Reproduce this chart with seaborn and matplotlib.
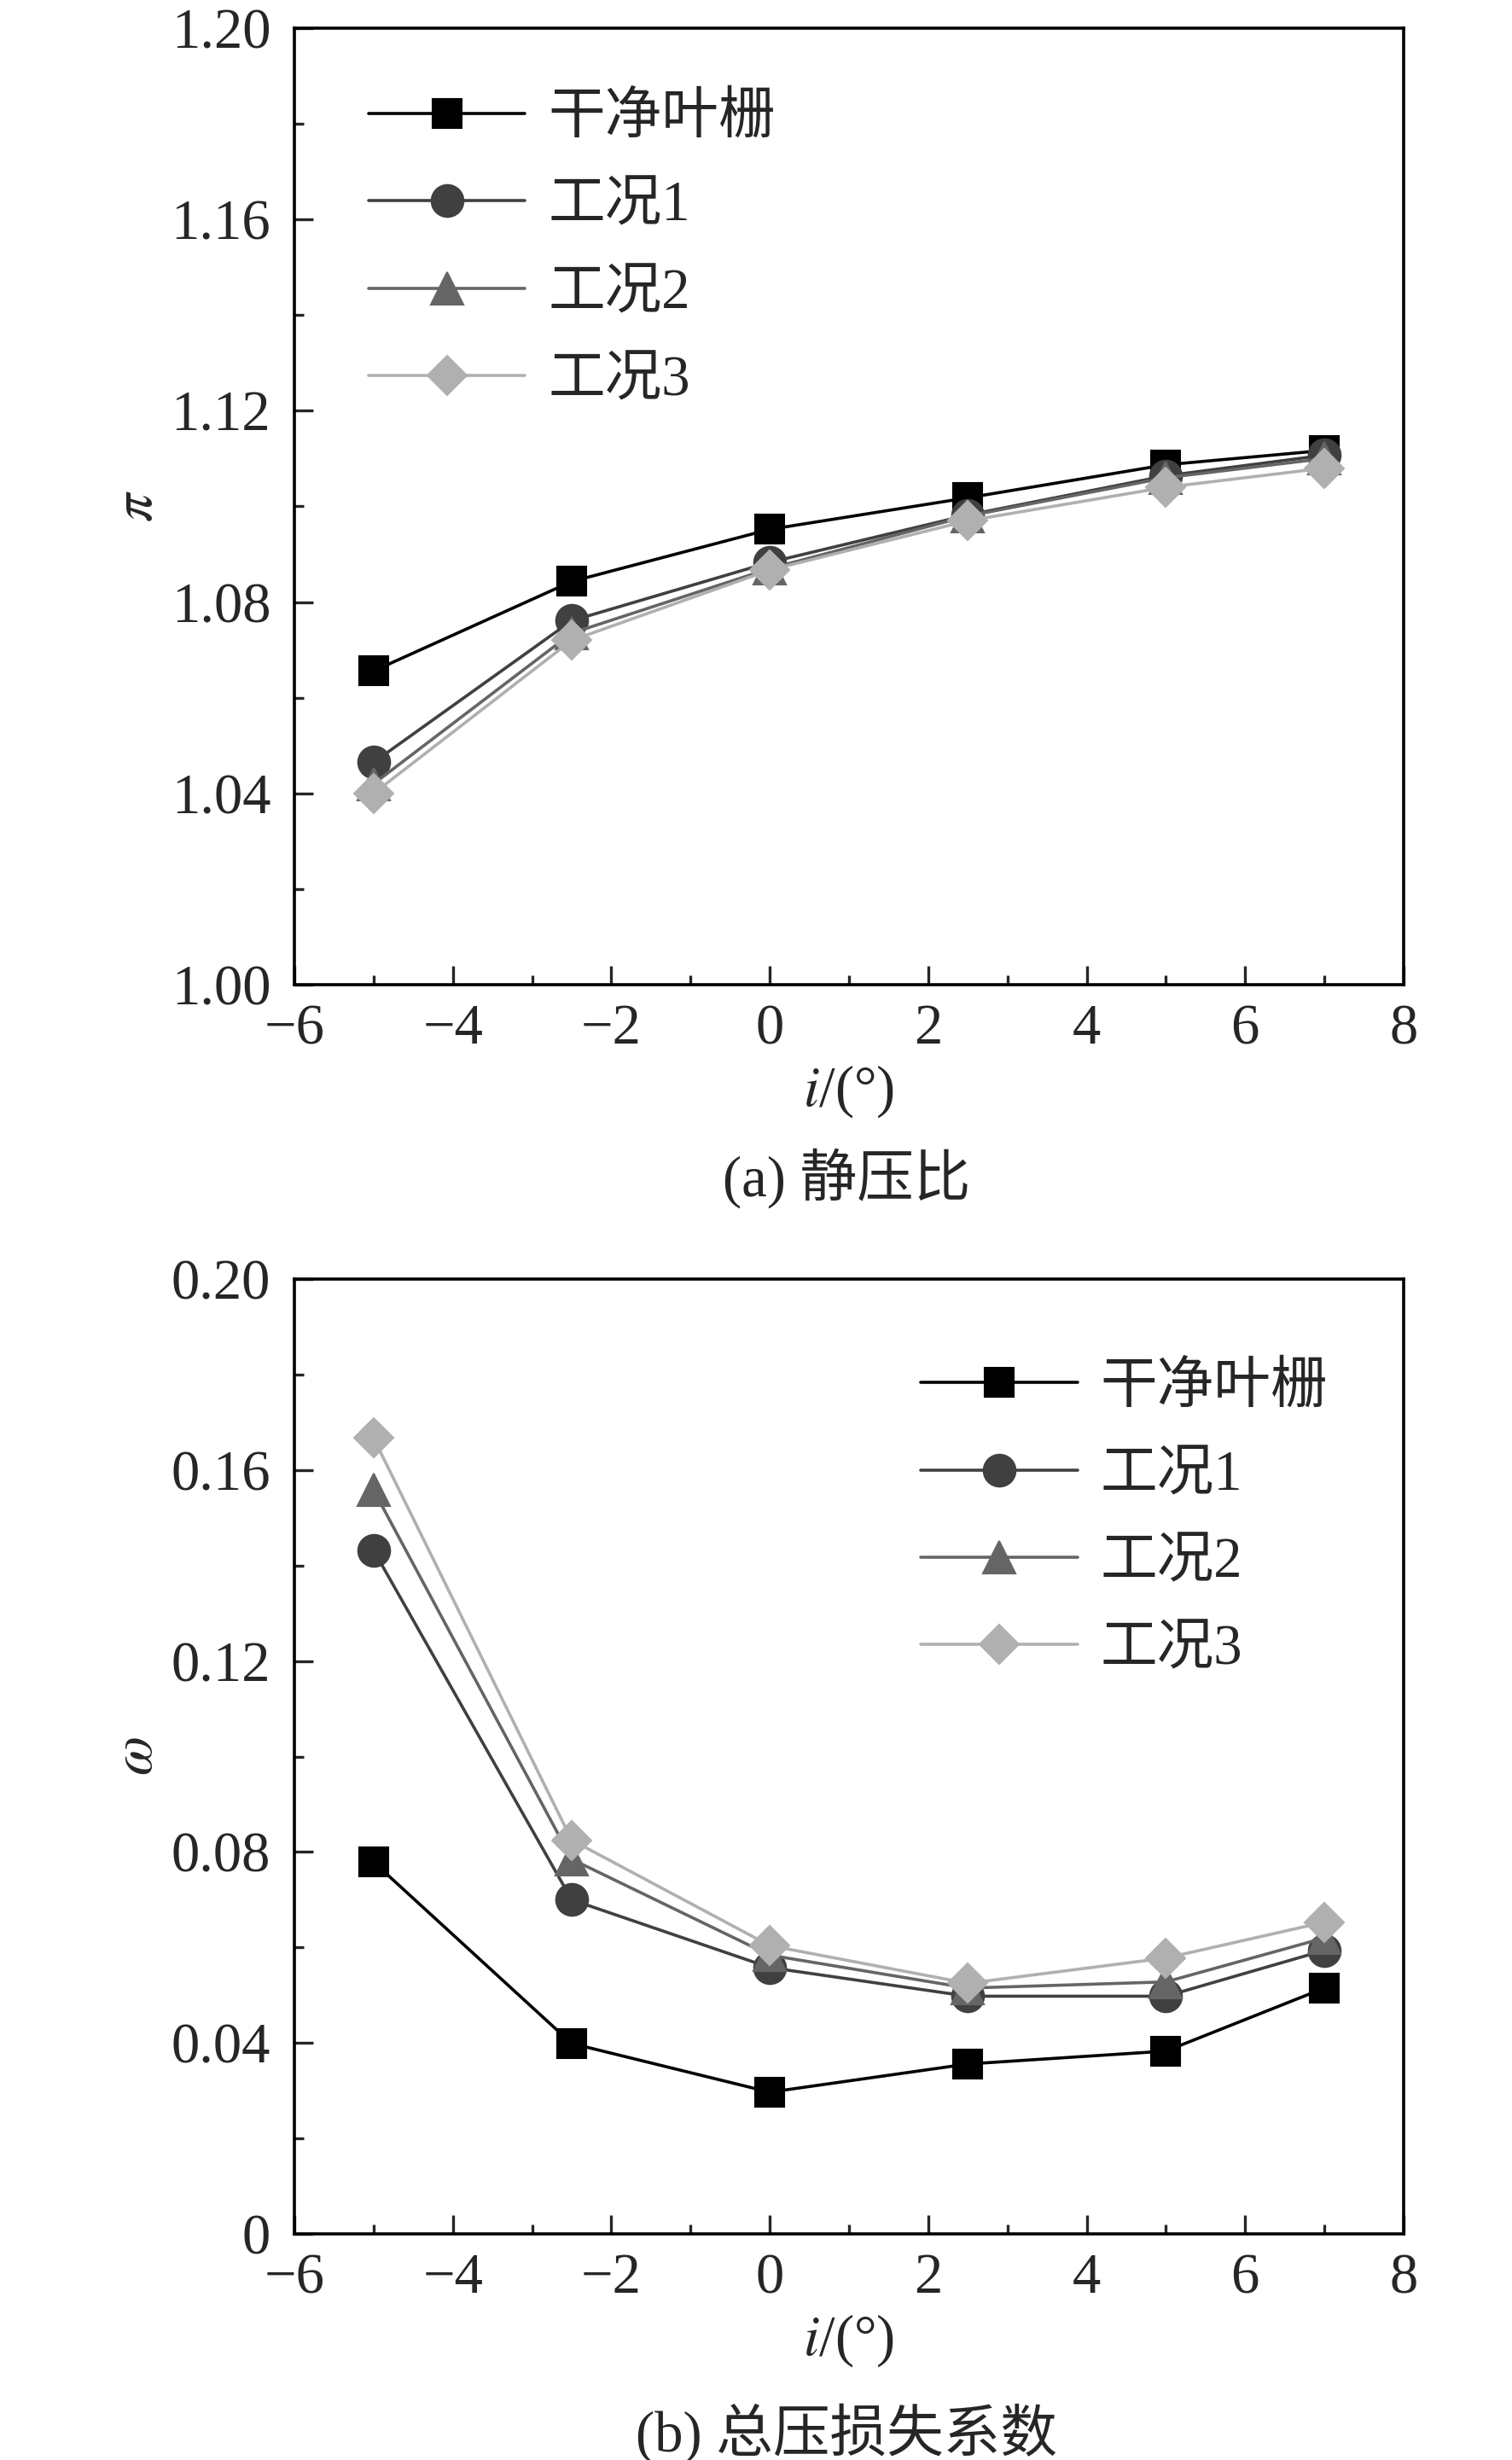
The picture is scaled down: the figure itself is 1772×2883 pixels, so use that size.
import numpy as np
import pandas as pd
import matplotlib
matplotlib.use("Agg")
import matplotlib.pyplot as plt
import seaborn as sns
from matplotlib.ticker import MultipleLocator, FormatStrFormatter

sns.set_style("ticks")
plt.rcParams['font.family'] = ['Liberation Serif', 'Noto Sans CJK SC']
plt.rcParams['mathtext.fontset'] = 'stix'
plt.rcParams['axes.unicode_minus'] = True

# ---------------- data ----------------
incidence = [-5, -2.5, 0, 2.5, 5, 7]
series_names = ["干净叶栅", "工况1", "工况2", "工况3"]

pi_clean = [1.0656, 1.0843, 1.0952, 1.1018, 1.1087, 1.1117]
pi_case1 = [1.0465, 1.0761, 1.0883, 1.0982, 1.1064, 1.1107]
pi_case2 = [1.0420, 1.0735, 1.0870, 1.0980, 1.1060, 1.1100]
pi_case3 = [1.0400, 1.0720, 1.0867, 1.0970, 1.1040, 1.1080]

omega_clean = [0.0779, 0.0399, 0.0297, 0.0356, 0.0383, 0.0515]
omega_case1 = [0.1432, 0.0700, 0.0558, 0.0498, 0.0498, 0.0594]
omega_case2 = [0.1558, 0.0785, 0.0584, 0.0515, 0.0528, 0.0620]
omega_case3 = [0.1667, 0.0825, 0.0604, 0.0525, 0.0578, 0.0653]

colors = ["#000000", "#404040", "#656565", "#b0b0b0"]
markers = ["s", "o", "^", "D"]
msizes = [12.5, 13.5, 13.5, 11.5]


def long_table(values):
    rows = []
    for name, vals in zip(series_names, values):
        for x, v in zip(incidence, vals):
            rows.append({"i": x, "val": v, "case": name})
    return pd.DataFrame(rows)


df_pi = long_table([pi_clean, pi_case1, pi_case2, pi_case3])
df_om = long_table([omega_clean, omega_case1, omega_case2, omega_case3])

fig = plt.figure(figsize=(8.86, 14.415), dpi=200)
ax1 = fig.add_axes([0.1947, 0.5997, 0.7336, 0.3889])
ax2 = fig.add_axes([0.1947, 0.0919, 0.7336, 0.3881])


def draw(ax, df, ylim, ystep, fmt, ylabel, legend_xy):
    for k, name in enumerate(series_names):
        sub = df[df["case"] == name]
        sns.lineplot(data=sub, x="i", y="val", ax=ax, color=colors[k],
                     marker=markers[k], markersize=msizes[k],
                     markeredgecolor=colors[k], linewidth=1.3,
                     label=name, zorder=3 + k)
    ax.set_xlim(-6, 8)
    ax.set_ylim(*ylim)
    ax.xaxis.set_major_locator(MultipleLocator(2))
    ax.xaxis.set_minor_locator(MultipleLocator(1))
    ax.yaxis.set_major_locator(MultipleLocator(ystep))
    ax.yaxis.set_minor_locator(MultipleLocator(ystep / 2))
    ax.yaxis.set_major_formatter(FormatStrFormatter(fmt))
    ax.tick_params(which="major", direction="in", length=8, width=1.2,
                   labelsize=24, pad=8, top=False, right=False)
    ax.tick_params(axis="y", which="major", pad=10)
    ax.tick_params(which="minor", direction="in", length=4, width=1.2,
                   top=False, right=False)
    for sp in ax.spines.values():
        sp.set_visible(True)
        sp.set_linewidth(1.3)
        sp.set_color("black")
    ax.set_xlabel("$i$/(°)", fontsize=24, labelpad=3)
    ax.set_ylabel(ylabel, fontsize=24, labelpad=3)
    ax.legend(loc="upper left", bbox_to_anchor=legend_xy, frameon=False,
              fontsize=24, handlelength=2.75, handletextpad=0.4,
              labelspacing=0.62, borderaxespad=0, borderpad=0)


draw(ax1, df_pi, (1.00, 1.20), 0.04, "%.2f", "$\\pi$", (0.067, 0.932))
draw(ax2, df_om, (0.0, 0.20), 0.04, "%.2f", "$\\omega$", (0.565, 0.913))
ax2.set_yticks([0, 0.04, 0.08, 0.12, 0.16, 0.20])
ax2.set_yticklabels(["0", "0.04", "0.08", "0.12", "0.16", "0.20"])

fig.text(0.5 + 0.06, 1 - 1381 / 2883, "(a) 静压比", ha="center", va="center",
         fontsize=24)
fig.text(0.5 + 0.06, 1 - 2852 / 2883, "(b) 总压损失系数", ha="center",
         va="center", fontsize=24)

fig.savefig("out.png", dpi=200)
